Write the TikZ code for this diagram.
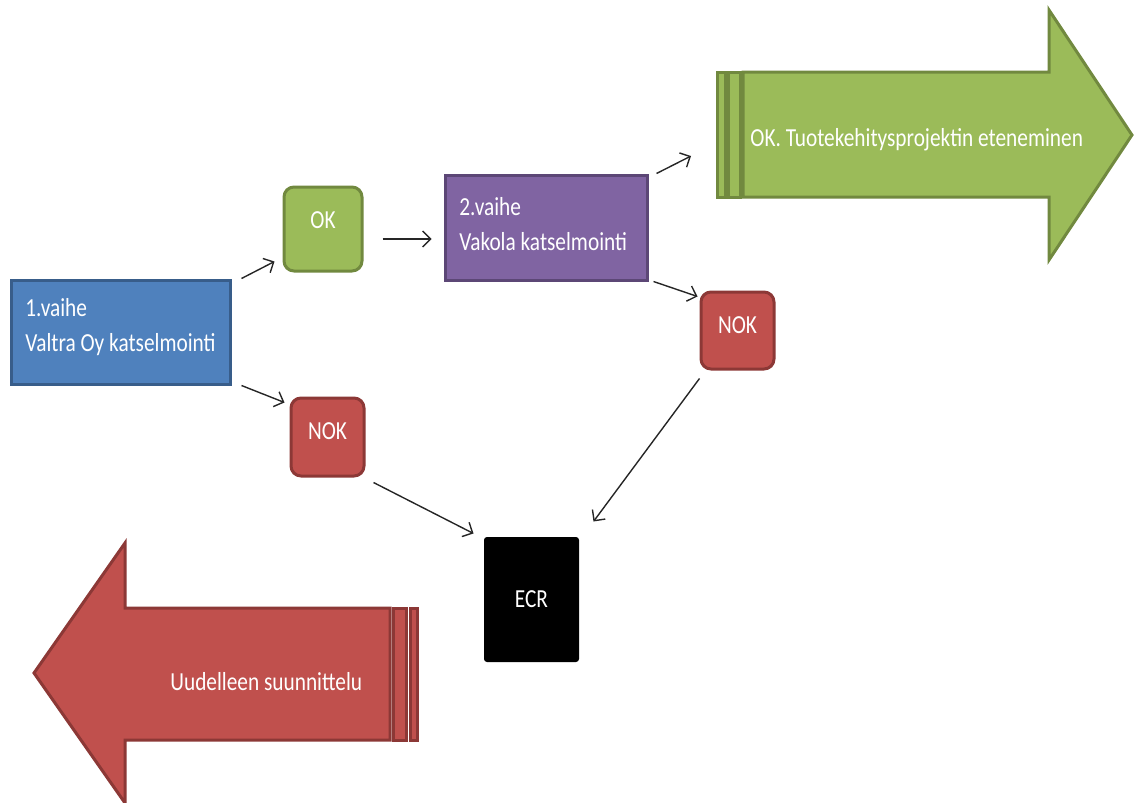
\documentclass[tikz,border=0pt]{standalone}
\usepackage{fontspec}
\setmainfont[FakeStretch=0.82]{Carlito}
\usetikzlibrary{arrows.meta,calc}
\definecolor{bluefill}{HTML}{4F81BD}
\definecolor{blueline}{HTML}{385D8A}
\definecolor{greenfill}{HTML}{9BBB59}
\definecolor{greenline}{HTML}{71893F}
\definecolor{purplefill}{HTML}{8064A2}
\definecolor{purpleline}{HTML}{5C4776}
\definecolor{redfill}{HTML}{C0504D}
\definecolor{redline}{HTML}{8C3836}
\begin{document}
\begin{tikzpicture}[x=0.5pt,y=-0.5pt,
  conn/.style={draw=black!85, line width=0.7pt, -{Straight Barb[length=4pt,width=8pt]}},
  box/.style={draw, line width=1.5pt, inner sep=0pt, text=white, font=\fontsize{13}{17.5}\selectfont},
  lbl/.style={text=white, font=\fontsize{13}{17.5}\selectfont, align=left, inner sep=0pt},
  bigline/.style={line width=1.5pt},
]
\useasboundingbox (0,0) rectangle (1136,803);
\clip (0,0) rectangle (1136,803);

% big green arrow
\draw[bigline, fill=greenfill, draw=greenline]
  (743,72) -- (1049,72) -- (1049,10) -- (1132,135) -- (1049,260) -- (1049,197) -- (743,197) -- cycle;
\draw[bigline, fill=greenfill, draw=greenline] (717.5,72) rectangle (725.5,197);
\draw[bigline, fill=greenfill, draw=greenline] (728.5,72) rectangle (740.5,197);
\coordinate (gtail) at (717,135);
\node[lbl, anchor=west] (tgreen) at (750,140) {OK. Tuotekehitysprojektin eteneminen};

% big red arrow
\draw[bigline, fill=redfill, draw=redline]
  (390,608) -- (125,608) -- (125,543) -- (34,673) -- (125,803) -- (125,740) -- (390,740) -- cycle;
\draw[bigline, fill=redfill, draw=redline] (393.5,608) rectangle (406.5,740);
\draw[bigline, fill=redfill, draw=redline] (410.5,608) rectangle (417.5,740);
\node[lbl, anchor=west] (tred) at (170,682) {Uudelleen suunnittelu};

% boxes
\node[box, fill=bluefill, draw=blueline, minimum width=109.5pt, minimum height=52pt] (b1) at (120.5,332) {};
\node[lbl, anchor=west] (t1) at (25,327) {1.vaihe\\Valtra Oy katselmointi};

\node[box, fill=purplefill, draw=purpleline, minimum width=101pt, minimum height=52.5pt] (b2) at (546,227.5) {};
\node[lbl, anchor=west] (t2) at (459,224) {2.vaihe\\Vakola katselmointi};

\node[box, fill=greenfill, draw=greenline, rounded corners=5pt, minimum width=39pt, minimum height=42pt, text depth=9pt] (ok) at (323,229) {OK};
\node[box, fill=redfill, draw=redline, rounded corners=5pt, minimum width=36.5pt, minimum height=39pt, text depth=6pt] (nok1) at (327.5,437) {NOK};
\node[box, fill=redfill, draw=redline, rounded corners=5pt, minimum width=36.5pt, minimum height=38.5pt, text depth=5.5pt] (nok2) at (737.5,330.5) {NOK};
\node[box, draw=none, fill=black, rounded corners=1.5pt, minimum width=47.5pt, minimum height=62.5pt] (ecr) at (531.5,599.5) {ECR};

% connectors
\draw[conn] ($(b1.north east)+(10,0)$) -- ($(ok.south west)+(-8,-11)$);
\draw[conn] ($(b1.south east)+(10,0)$) -- ($(nok1.north west)+(-5,6)$);
\draw[conn] ($(ok.east)+(19,10)$) -- ($(b2.west)+(-12,11.5)$);
\draw[conn] ($(b2.north east)+(8,0)$) -- ($(gtail)+(-26,21)$);
\draw[conn] ($(b2.south east)+(5,0)$) -- ($(nok2.north west)+(-2,6)$);
\draw[conn] ($(nok2.south west)+(0,8)$) -- ($(ecr.north east)+(13,-14)$);
\draw[conn] ($(nok1.south east)+(8,5)$) -- ($(ecr.north west)+(-9,-2)$);
\end{tikzpicture}
\end{document}
